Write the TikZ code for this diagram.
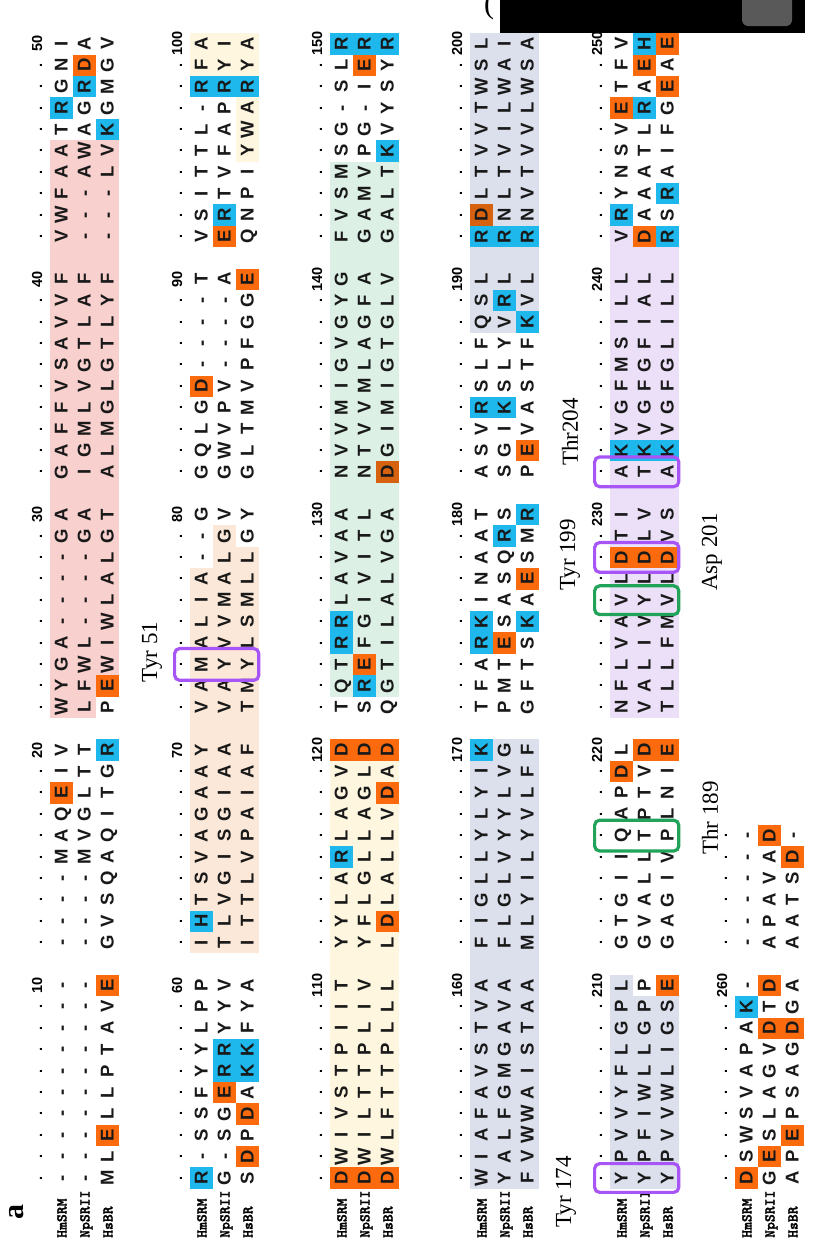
\documentclass[tikz,border=0pt]{standalone}
\usepackage{fontspec}
\setmainfont{Liberation Serif}
\newfontfamily\seqfont{Liberation Sans}
\newfontfamily\namefont{lmmonolt10-bold.otf}[FakeBold=1.6]
\usetikzlibrary{fit}
\definecolor{pinkbg}{HTML}{F8D0CE}
\definecolor{peachbg}{HTML}{FCE8D8}
\definecolor{creambg}{HTML}{FEF6DF}
\definecolor{greenbg}{HTML}{DDF0E5}
\definecolor{graybg}{HTML}{DCE0EC}
\definecolor{lavbg}{HTML}{EBE0F7}
\definecolor{org}{HTML}{FB6A0C}
\definecolor{orgdark}{HTML}{D6620F}
\definecolor{blu}{HTML}{1EB8EC}
\definecolor{pbox}{HTML}{A855F7}
\definecolor{gbox}{HTML}{21A35A}
\def\Yone{1178}
\def\pitch{21.4}
\def\dA{24}
\def\dB{23}
\def\hs{11.5}
\newcount\colc
% ruler x of each block
\def\rulerx#1{\ifcase#1\or 37\or 177\or 317\or 457\or 597\or 722\fi}
\def\rowx#1#2{\pgfmathsetmacro\rx{\rulerx{#1}+\dA+(#2-1)*\dB}}
\def\coly#1{\pgfmathsetmacro\cy{\Yone-(#1-1+floor((#1-1)/10))*\pitch}}
\def\seqline#1#2#3{\def\curblk{#1}\def\currow{#2}\rowx{#1}{#2}\colc=0
  \node[namelab] (name#1-#2) at (\rx+5.5,1238) {\ifcase#2\or HmSRM\or NpSRII\or HsBR\fi};
  \parsechar#3\relax}
\def\parsechar#1{\ifx#1\relax\else\advance\colc by 1 \placechar{#1}\expandafter\parsechar\fi}
\def\placechar#1{\coly{\the\colc}%
  \ifnum`#1>96
    \if x#1\def\bgc{orgdark}\def\ltr{D}%
    \else
      \if d#1\def\bgc{org}\else\if e#1\def\bgc{org}\else\def\bgc{blu}\fi\fi
      \uppercase{\def\ltr{#1}}%
    \fi
    \fill[\bgc] (\rx-\hs,\cy-\pitch/2) rectangle (\rx+\hs,\cy+\pitch/2);
  \else\def\ltr{#1}\fi
  \node[lett] (n\curblk-\currow-\the\colc) at (\rx+6.6,\cy) {\ltr};}
\def\bgband#1#2#3#4#5{\rowx{#1}{#2}%
  \pgfmathsetmacro\ya{\Yone-(#3-1+floor((#3-1)/10))*\pitch+\pitch/2}%
  \pgfmathsetmacro\yb{\Yone-(#4-1+floor((#4-1)/10))*\pitch-\pitch/2}%
  \fill[#5] (\rx-\hs,\ya) rectangle (\rx+\hs,\yb);}
\def\ruler#1#2{\pgfmathsetmacro\rulx{\rulerx{#1}}%
  \foreach \c in {1,...,#2}{\coly{\c}\pgfmathtruncatemacro\m{mod(\c,10)}%
    \ifnum\m=0 \pgfmathtruncatemacro\lab{(#1-1)*50+\c}%
      \node[rullab] (r#1-\c) at (\rulx+5,\cy) {\lab};%
    \else\node[rullab] (r#1-\c) at (\rulx+5,\cy) {.};\fi}}
\tikzset{
  lett/.style={rotate=90, inner sep=0pt, anchor=base, text=black!90,
    font=\seqfont\fontsize{18.5}{19}\bfseries\selectfont},
  namelab/.style={rotate=90, inner sep=0pt, anchor=base west,
    font=\namefont\fontsize{15}{15}\selectfont},
  rullab/.style={rotate=90, inner sep=0pt, anchor=base,
    font=\seqfont\fontsize{14.5}{14.5}\bfseries\selectfont},
  annot/.style={rotate=90, inner sep=0pt, font=\fontsize{23}{23}\selectfont},
  hbox/.style={draw=#1, line width=3.2pt, rounded corners=5pt, inner xsep=5pt, inner ysep=8pt}
}
\begin{document}
\begin{tikzpicture}[x=1pt,y=-1pt]
\fill[white] (0,0) rectangle (818,1240);
\useasboundingbox (0,0) rectangle (818,1240);
% background helix shading
\bgband{1}{1}{21}{45}{pinkbg}\bgband{1}{2}{21}{45}{pinkbg}\bgband{1}{3}{22}{45}{pinkbg}
\bgband{2}{1}{11}{27}{peachbg}\bgband{2}{2}{11}{29}{peachbg}\bgband{2}{3}{11}{28}{peachbg}
\bgband{2}{1}{48}{50}{creambg}\bgband{2}{2}{48}{50}{creambg}\bgband{2}{3}{45}{50}{creambg}
\bgband{3}{1}{2}{19}{creambg}\bgband{3}{2}{2}{19}{creambg}\bgband{3}{3}{2}{19}{creambg}
\bgband{3}{1}{22}{44}{greenbg}\bgband{3}{2}{22}{44}{greenbg}\bgband{3}{3}{22}{44}{greenbg}
\bgband{4}{1}{1}{20}{graybg}\bgband{4}{2}{1}{20}{graybg}\bgband{4}{3}{1}{20}{graybg}
\bgband{4}{1}{38}{50}{graybg}\bgband{4}{2}{38}{50}{graybg}\bgband{4}{3}{38}{50}{graybg}
\bgband{5}{1}{1}{10}{graybg}\bgband{5}{2}{1}{9}{graybg}\bgband{5}{3}{1}{9}{graybg}
\bgband{5}{1}{21}{41}{lavbg}\bgband{5}{2}{21}{41}{lavbg}\bgband{5}{3}{21}{41}{lavbg}
% rulers
\ruler{1}{50}\ruler{2}{50}\ruler{3}{50}\ruler{4}{50}\ruler{5}{50}\ruler{6}{16}
% sequences
\seqline{1}{1}{--------------MAQeIVWYGA----GAGAFFVSAVVFVWFAATrGNI}
\seqline{1}{2}{--------------MVGLTTLFWL----GAIGMLVGTLAF---AWAGrdA}
\seqline{1}{3}{MLeLLPTAVeGVSQAQITGrPeWIWLALGTALMGLGTLYF---LVkGMGV}
\seqline{2}{1}{r-SSFYYLPPIhTSVAGAAYVAMALIA--GGQLGd----TVSITTL-rFA}
\seqline{2}{2}{G-SGerrYYVTLVGISGIAAVAYVVMALGVGWVPV----AerTVFAPrYI}
\seqline{2}{3}{SdPdAkkFYAITTLVPAIAFTMYLSMLLGYGLTMVPFGGeQNPIYWArYA}
\seqline{3}{1}{dWIVSTPIITYYLArLAGVdTQTrrLAVAANVVMIGVGYGFVSMSG-SLr}
\seqline{3}{2}{dWILTTPLIVYFLGLLAGLdSreFGIVITLNTVVMLAGFAGAMVPG-Ier}
\seqline{3}{3}{dWLFTTPLLLLdLALLVdAdQGTILALVGAxGIMIGTGLVGALTkVYSYr}
\seqline{4}{1}{WIAFAVSTVAFIGLLYLYIkTFArkINAATASVrSLFQSLrxLTVVTWSL}
\seqline{4}{2}{YALFGMGAVAFLGLVYYLVGPMTeSASQrSSGIkSLYVrLrNLTVILWAI}
\seqline{4}{3}{FVWWAISTAAMLYILYVLFFGFTSkAeSMrPeVASTFkVLrNVTVVLWSA}
\seqline{5}{1}{YPVVYFLGPLGTGIIQAPdLNFLVAVLdTIAkVGFMSILLVrYNSVeTFV}
\seqline{5}{2}{YPFIWLLGPPGVALLTPTVdVALIVYLdLVTkVGFGFIALdAAATLrAeh}
\seqline{5}{3}{YPVVWLIGSeGAGIVPLNIeTLLFMVLdVSAkVGFGLILLrSrAIFGeAe}
\seqline{6}{1}{dSWSVAPAk-------}
\seqline{6}{2}{GeSLAGVdTdAPAVAd}
\seqline{6}{3}{APePSAGdGAAATSd-}
% highlight boxes
\node[hbox=pbox, fit=(r2-23)(n2-1-23)(n2-3-23)] (bTyr51) {};
\node[hbox=pbox, fit=(r5-1)(n5-1-1)(n5-3-1)] (bTyr174) {};
\node[hbox=gbox, fit=(r5-16)(n5-1-16)(n5-3-16)] (bThr189) {};
\node[hbox=gbox, fit=(r5-26)(n5-1-26)(n5-3-26)] (bTyr199) {};
\node[hbox=pbox, fit=(r5-28)(n5-1-28)(n5-3-28)] (bAsp201) {};
\node[hbox=pbox, fit=(r5-31)(n5-1-31)(n5-3-31)] (bThr204) {};
% residue labels
\node[annot] (lTyr51) at (152,652) {Tyr 51};
\node[annot] (lTyr174) at (566,1192) {Tyr 174};
\node[annot] (lThr189) at (710,818) {Thr 189};
\node[annot] (lTyr199) at (570,555) {Tyr 199};
\node[annot] (lThr204) at (570,432) {Thr204};
\node[annot] (lAsp201) at (712,552) {Asp 201};
% panel label
\node[rotate=90, font=\bfseries\fontsize{30}{30}\selectfont] (panelA) at (17,1212) {a};
% cropped neighbouring panel
\fill[black] (500,0) rectangle (805,33);
\fill[black!65, rounded corners=6pt] (742,-10) rectangle (792,26);
\node[font=\fontsize{30}{30}\selectfont] (paren) at (489,6) {(};
\end{tikzpicture}
\end{document}
